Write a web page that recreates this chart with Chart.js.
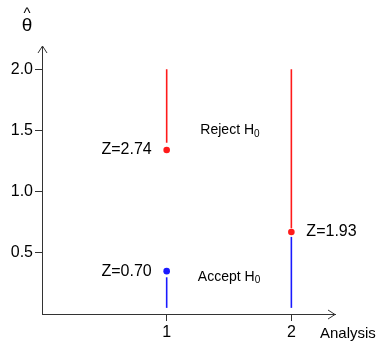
<!DOCTYPE html>
<html>
<head>
<meta charset="utf-8">
<script src="https://cdn.jsdelivr.net/npm/chart.js@4"></script>
<style>
  html, body { margin: 0; padding: 0; background: #fff; }
  #wrap { width: 380px; height: 342px; }
</style>
</head>
<body>
<div id="wrap"><canvas id="myChart" width="380" height="342"></canvas></div>
<script>
// data
const analyses = [1, 2];
const rejectTop = [2.0, 2.0];
const rejectBottom = [1.4, 0.7];
const acceptBottom = [0.05, 0.05];
const acceptTop = [0.3, 0.63];

const pointAnalysis = [1, 1, 2];
const pointTheta = [1.34, 0.35, 0.67];
const pointLabels = ['Z=2.74', 'Z=0.70', 'Z=1.93'];
const pointInRejectRegion = [true, false, true];

const yTicks = [0.5, 1.0, 1.5, 2.0];
const xTicks = [1, 2];

const RED = '#ff1a1a';
const BLUE = '#1a1aff';
const AXIS = '#333';
const FONT = '"Liberation Sans", Arial, sans-serif';

//segments
const datasets = [];
analyses.forEach((a, i) => {
    datasets.push({
        data: [{ x: a, y: rejectTop[i] }, { x: a, y: rejectBottom[i] }],
        borderColor: RED, borderWidth: 1.6, pointRadius: 0
    });
    datasets.push({
        data: [{ x: a, y: acceptBottom[i] }, { x: a, y: acceptTop[i] }],
        borderColor: BLUE, borderWidth: 1.6, pointRadius: 0
    });
});

//points
const pointColors = pointInRejectRegion.map(r => r ? RED : BLUE);
datasets.push({
    data: pointAnalysis.map((a, i) => ({ x: a, y: pointTheta[i] })),
    showLine: false,
    pointRadius: 3.3,
    pointBackgroundColor: pointColors,
    pointBorderColor: pointColors,
    pointBorderWidth: 0
});

const extras = {
    id: 'extras',
    afterDraw(chart) {
        const c = chart.ctx;
        const xs = chart.scales.x, ys = chart.scales.y;
        const area = chart.chartArea;
        c.save();
        // arrow heads
        c.strokeStyle = AXIS;
        c.lineWidth = 1;
        c.beginPath();
        c.moveTo(area.left - 4, area.top + 7);
        c.lineTo(area.left + 0.5, area.top);
        c.lineTo(area.left + 5, area.top + 7);
        c.moveTo(area.right - 7, area.bottom - 4);
        c.lineTo(area.right, area.bottom + 0.5);
        c.lineTo(area.right - 7, area.bottom + 5);
        c.stroke();

        c.fillStyle = '#000';
        // theta hat
        c.font = '19px ' + FONT;
        c.textAlign = 'center';
        c.textBaseline = 'middle';
        c.fillText('\u03b8', 27, 26);
        c.font = '15px ' + FONT;
        c.fillText('^', 27, 14);

        // axis title
        c.font = '15px ' + FONT;
        c.textAlign = 'left';
        c.fillText('Analysis', 320, 334);

        // z labels
        c.font = '16px ' + FONT;
        pointAnalysis.forEach((a, i) => {
            const px = xs.getPixelForValue(a);
            const py = ys.getPixelForValue(pointTheta[i]);
            if (a === 1) {
                c.textAlign = 'right';
                c.fillText(pointLabels[i], px - 15, py);
            } else {
                c.textAlign = 'left';
                c.fillText(pointLabels[i], px + 15, py);
            }
        });

        // region labels
        const region = (txt, x, y) => {
            c.font = '14px ' + FONT;
            c.textAlign = 'left';
            const px = xs.getPixelForValue(x), py = ys.getPixelForValue(y);
            c.fillText(txt, px, py);
            const w = c.measureText(txt).width;
            c.font = '10px ' + FONT;
            c.fillText('0', px + w, py + 4);
        };
        region('Reject H', 1.27, 1.5);
        region('Accept H', 1.25, 0.305);
        c.restore();
    }
};

new Chart(document.getElementById('myChart'), {
    type: 'line',
    data: { datasets: datasets },
    options: {
        responsive: false,
        animation: false,
        layout: { padding: { top: 46, right: 45, left: 0, bottom: 0 } },
        plugins: { legend: { display: false }, tooltip: { enabled: false } },
        elements: { line: { tension: 0 } },
        scales: {
            x: {
                type: 'linear',
                min: 0, max: 2.35,
                afterBuildTicks: s => { s.ticks = xTicks.map(v => ({ value: v })); },
                afterFit: s => { s.height = 28; },
                grid: { drawOnChartArea: false, tickLength: 7, color: AXIS },
                border: { color: AXIS, width: 1 },
                ticks: { color: '#000', padding: 2, font: { size: 16, family: FONT }, callback: v => String(v) }
            },
            y: {
                type: 'linear',
                min: 0, max: 2.19,
                afterBuildTicks: s => { s.ticks = yTicks.map(v => ({ value: v })); },
                afterFit: s => { s.width = 42; },
                grid: { drawOnChartArea: false, tickLength: 7, color: AXIS },
                border: { color: AXIS, width: 1 },
                ticks: { color: '#000', padding: 2, font: { size: 16, family: FONT }, callback: v => v.toFixed(1) }
            }
        }
    },
    plugins: [extras]
});
</script>
</body>
</html>
